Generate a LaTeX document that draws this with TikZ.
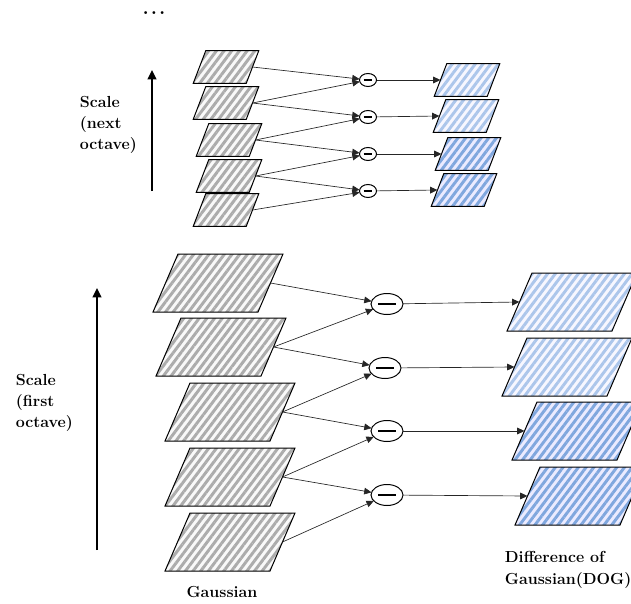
\documentclass[tikz,border=0pt]{standalone}
\usetikzlibrary{shapes.geometric,arrows.meta,patterns.meta}

\definecolor{gausstripe}{RGB}{172,172,172}
\definecolor{doglight}{RGB}{172,198,235}
\definecolor{dogdark}{RGB}{128,167,222}

\tikzset{every picture/.style={line width=0.75pt}}
\tikzset{
  pbox/.style={trapezium, draw, outer sep=0pt, minimum width=0pt, minimum height=0pt},
  bigbox/.style={pbox, trapezium left angle=66.7, trapezium right angle=113.3,
    inner xsep=30pt, inner ysep=21.75pt},
  smallbox/.style={pbox, trapezium left angle=69, trapezium right angle=111,
    inner xsep=15.2pt, inner ysep=12.2pt},
  gauss/.style={preaction={fill=gray!5},
    pattern={Lines[angle=53,distance=4.6pt,line width=2.2pt]}, pattern color=gausstripe},
  dogl/.style={preaction={fill=blue!3},
    pattern={Lines[angle=53,distance=4.6pt,line width=2.2pt]}, pattern color=doglight},
  dogd/.style={preaction={fill=blue!8},
    pattern={Lines[angle=53,distance=4.6pt,line width=2.2pt]}, pattern color=dogdark},
  minus/.style={ellipse, draw, inner sep=0pt, outer sep=0pt, fill=white,
    path picture={\draw[line width=0.8pt] ([xshift=-#1]path picture bounding box.center)
      -- ([xshift=#1]path picture bounding box.center);}},
  bigminus/.style={minus=6.5pt, minimum width=24pt, minimum height=15.75pt},
  smallminus/.style={minus=3.3pt, minimum width=12.75pt, minimum height=9.75pt},
  conn/.style={line width=0.5pt, black!85, -{Triangle[length=5.5pt,width=5pt]}},
  scalearrow/.style={line width=1.3pt, -{Triangle[length=7pt,width=6.5pt]}},
  lbl/.style={font=\bfseries\fontsize{12}{16}\selectfont, align=left}
}

\begin{document}
\begin{tikzpicture}[x=0.75pt,y=0.75pt,yscale=-1,xscale=1]
\useasboundingbox (0,0) rectangle (631,603);

%Gaussian, next octave
\node[smallbox,gauss] (ga1) at (226,67) {};
\node[smallbox,gauss] (ga2) at (226,103) {};
\node[smallbox,gauss] (ga3) at (229,140) {};
\node[smallbox,gauss] (ga4) at (229,176) {};
\node[smallbox,gauss] (ga5) at (226,210) {};

%Difference, next octave
\node[smallminus] (ma1) at (368,80) {};
\node[smallminus] (ma2) at (368,117) {};
\node[smallminus] (ma3) at (368,154) {};
\node[smallminus] (ma4) at (368,191) {};

%DOG, next octave
\node[smallbox,dogl] (da1) at (467,80) {};
\node[smallbox,dogl] (da2) at (466,116) {};
\node[smallbox,dogd] (da3) at (468,154) {};
\node[smallbox,dogd] (da4) at (464,190) {};

%Gaussian, first octave
\node[bigbox,gauss] (gb1) at (218,283) {};
\node[bigbox,gauss] (gb2) at (221,347) {};
\node[bigbox,gauss] (gb3) at (230,412) {};
\node[bigbox,gauss] (gb4) at (230,477) {};
\node[bigbox,gauss] (gb5) at (230,542) {};

%Difference, first octave
\node[bigminus] (mb1) at (387,304) {};
\node[bigminus] (mb2) at (385,368) {};
\node[bigminus] (mb3) at (387,431) {};
\node[bigminus] (mb4) at (387,495) {};

%DOG, first octave
\node[bigbox,dogl] (db1) at (572,302) {};
\node[bigbox,dogl] (db2) at (567,367) {};
\node[bigbox,dogd] (db3) at (577,431) {};
\node[bigbox,dogd] (db4) at (580,496) {};

%Connectors, next octave
\draw[conn] (ga1.east) -- (ma1);
\draw[conn] (ga2.east) -- (ma1);
\draw[conn] (ga2.east) -- (ma2);
\draw[conn] (ga3.east) -- (ma2);
\draw[conn] (ga3.east) -- (ma3);
\draw[conn] (ga4.east) -- (ma3);
\draw[conn] (ga4.east) -- (ma4);
\draw[conn] (ga5.east) -- (ma4);
\draw[conn] (ma1) -- (da1.west);
\draw[conn] (ma2) -- (da2.west);
\draw[conn] (ma3) -- (da3.west);
\draw[conn] (ma4) -- (da4.west);

%Connectors, first octave
\draw[conn] (gb1.east) -- (mb1);
\draw[conn] (gb2.east) -- (mb1);
\draw[conn] (gb2.east) -- (mb2);
\draw[conn] (gb3.east) -- (mb2);
\draw[conn] (gb3.east) -- (mb3);
\draw[conn] (gb4.east) -- (mb3);
\draw[conn] (gb4.east) -- (mb4);
\draw[conn] (gb5.east) -- (mb4);
\draw[conn] (mb1) -- (db1.west);
\draw[conn] (mb2) -- (db2.west);
\draw[conn] (mb3) -- (db3.west);
\draw[conn] (mb4) -- (db4.west);

%Scale arrows
\coordinate (sa0) at (152,191);
\coordinate (sa1) at (152,70);
\draw[scalearrow] (sa0) -- (sa1);
\coordinate (sb0) at (97,550);
\coordinate (sb1) at (97,288);
\draw[scalearrow] (sb0) -- (sb1);

% Text Node
\node[font=\bfseries\fontsize{15}{18}\selectfont] (dots) at (154,13) {.\kern1.5pt.\kern1.5pt.};
% Text Node
\node[lbl, anchor=west] (scalenext) at (75,125) {Scale\\(next\\octave)};
% Text Node
\node[lbl, anchor=west] (scalefirst) at (11,403) {Scale\\(first\\octave)};
% Text Node
\node[lbl] (gausslbl) at (222,592) {Gaussian};
% Text Node
\node[lbl, anchor=west] (doglbl) at (500,570) {Difference of\\Gaussian(DOG)};

\end{tikzpicture}
\end{document}
